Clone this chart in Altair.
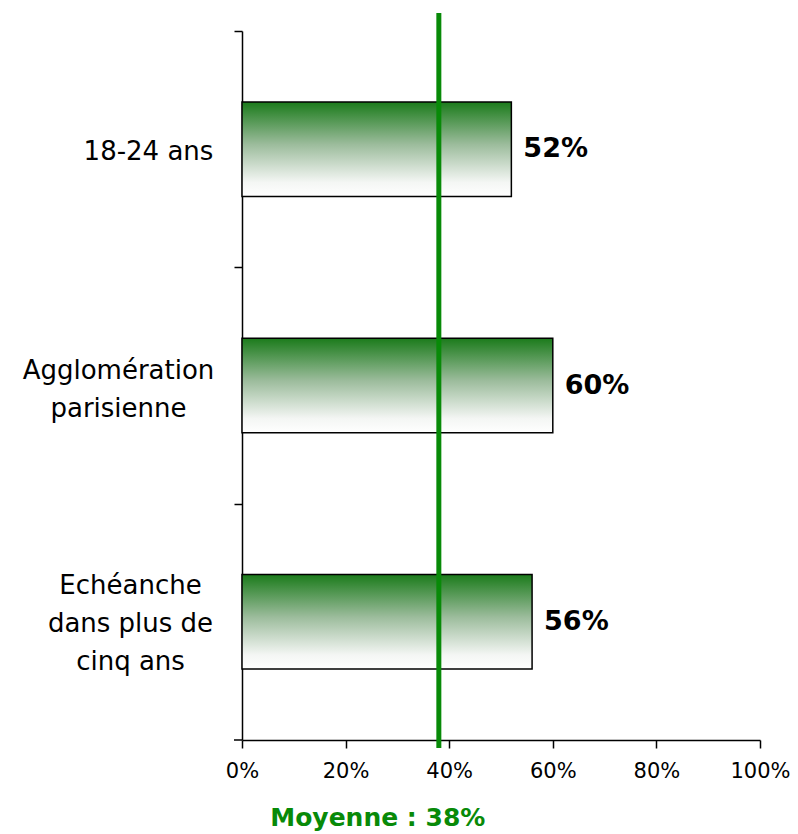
import altair as alt
import pandas as pd

categories = ["18-24 ans", "Agglomération|parisienne", "Echéanche|dans plus de|cinq ans"]
values = [52, 60, 56]
value_labels = ["52%", "60%", "56%"]
mean_value = [38]
mean_label = ["Moyenne : 38%"]
x_ticks = [0, 20, 40, 60, 80, 100]

W, H = 518, 709
GREEN = "#088a08"
FONT = "DejaVu Sans"
STEP = H / 3

df = pd.DataFrame({"cat": categories, "v": values, "lab": value_labels})
dm = pd.DataFrame({"v": mean_value, "lab": mean_label})

gradient = alt.Gradient(
    gradient="linear",
    stops=[
        alt.GradientStop(color="#1b7b1b", offset=0),
        alt.GradientStop(color="#9cbc9c", offset=0.45),
        alt.GradientStop(color="#f4f6f4", offset=0.85),
        alt.GradientStop(color="#ffffff", offset=1),
    ],
    x1=0, x2=0, y1=0, y2=1,
)

t1 = f"datum.value == '{categories[0]}'"
t2 = f"datum.value == '{categories[1]}'"

x_enc = alt.X(
    "v:Q",
    scale=alt.Scale(domain=[0, 100]),
    axis=alt.Axis(
        values=x_ticks, labelExpr="datum.value + '%'", title=None, grid=False,
        tickSize=8, labelFontSize=21, labelPadding=12, labelFont=FONT, labelFlush=False,
        domainColor="black", tickColor="black", labelColor="black",
        domainWidth=1.5, tickWidth=1.5,
    ),
)
y_enc = alt.Y(
    "cat:N", sort=categories,
    scale=alt.Scale(paddingInner=0.6, paddingOuter=0.3),
    axis=alt.Axis(
        title=None, tickSize=8, tickOffset=-STEP / 2, labelAlign="center",
        labelOffset={"condition": [{"test": t1, "value": STEP / 2 + 2},
                                   {"test": t2, "value": STEP / 2 - 15},
                                   ],
                     "value": STEP / 2 - 36},
        labelPadding={"condition": [{"test": t1, "value": 86},
                                    {"test": t2, "value": 116}],
                      "value": 104},
        labelFontSize=26, labelLineHeight=38, labelFont=FONT, labelLimit=400,
        labelExpr="split(datum.label, '|')", labelBaseline="middle",
        domainColor="black", tickColor="black", labelColor="black",
        domainWidth=1.5, tickWidth=1.5,
    ),
)

base = alt.Chart(df)
bars = base.mark_bar(color=gradient, stroke="black", strokeWidth=1.5).encode(x=x_enc, y=y_enc)
texts = base.mark_text(align="left", baseline="middle", dx=12, fontSize=27,
                       fontWeight="bold", font=FONT, color="black").encode(
    x="v:Q", y=alt.Y("cat:N", sort=categories), text="lab:N")

# closing tick at the bottom of the category axis
end_tick = alt.Chart(dm).mark_rule(color="black", strokeWidth=1.5).encode(
    x=alt.value(-8), x2=alt.value(0), y=alt.value(H))

rule = alt.Chart(dm).mark_rule(color=GREEN, strokeWidth=5).encode(
    x="v:Q", y=alt.value(-18), y2=alt.value(H + 8))
mtext = alt.Chart(dm).mark_text(baseline="middle", dx=-61, fontSize=25, fontWeight="bold",
                                font=FONT, color=GREEN).encode(
    x="v:Q", y=alt.value(H + 78), text="lab:N")

chart = alt.layer(bars, texts, end_tick, rule, mtext).properties(
    width=W, height=H,
    autosize=alt.AutoSizeParams(type="none"),
    padding={"left": 234, "top": 23, "right": 30, "bottom": 96},
).configure_view(stroke=None)

chart.save("out.html", embed_options={"renderer": "svg", "actions": False})
